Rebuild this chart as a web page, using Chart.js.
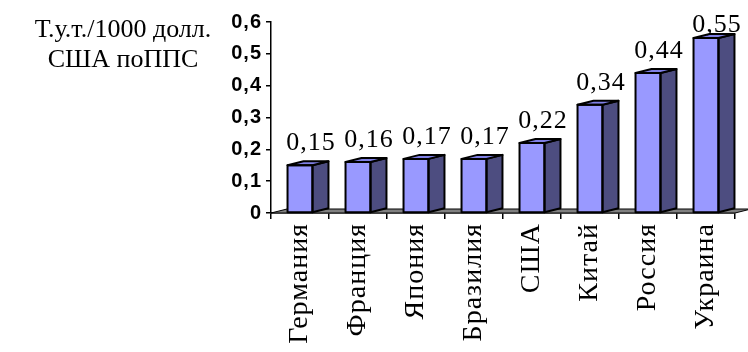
<!DOCTYPE html>
<html>
<head>
<meta charset="utf-8">
<script src="https://cdn.jsdelivr.net/npm/chart.js@4/dist/chart.umd.min.js"></script>
<style>
  html, body { margin: 0; padding: 0; background: #fff; }
  #wrap { position: relative; width: 748px; height: 352px; }
  #unit {
    position: absolute; left: 0; top: 14px; width: 246px;
    text-align: center; font-family: "Liberation Serif", "Times New Roman", serif;
    font-size: 26px; line-height: 30px; color: #000;
  }
</style>
</head>
<body>
<div id="wrap">
  <canvas id="barChart" width="748" height="352"></canvas>
  <div id="unit">Т.у.т./1000 долл.<br>США поППС</div>
</div>
<script>
// Data
const countries = ['Германия', 'Франция', 'Япония', 'Бразилия', 'США', 'Китай', 'Россия', 'Украина'];
const intensity = [0.15, 0.16, 0.17, 0.17, 0.22, 0.34, 0.44, 0.55];
const yTicks = [0, 0.1, 0.2, 0.3, 0.4, 0.5, 0.6];

const fmt = v => v === 0 ? '0' : v.toFixed(v * 10 % 1 === 0 ? 1 : 2).replace('.', ',');

// 3D look
const DX = 16, DY = 4;
const FRONT = '#9999FF';
const SIDE = '#4D4D80';
const TOP = '#8080E6';

function poly(c, pts, fill) {
    c.beginPath();
    c.moveTo(pts[0][0], pts[0][1]);
    for (let i = 1; i < pts.length; i++) c.lineTo(pts[i][0], pts[i][1]);
    c.closePath();
    c.fillStyle = fill;
    c.fill();
    c.stroke();
}

// slightly spaced text, like the original
const spacingPlugin = {
    id: 'spacing',
    beforeDraw(chart) { chart.ctx.letterSpacing = '1px'; }
};

const floorPlugin = {
    id: 'floor',
    beforeDatasetsDraw(chart) {
        const c = chart.ctx, a = chart.chartArea;
        c.save();
        c.strokeStyle = '#000';
        c.lineWidth = 1;
        poly(c, [[a.left, a.bottom], [a.left + DX, a.bottom - DY], [a.right + DX, a.bottom - DY], [a.right, a.bottom]], '#808080');
        c.restore();
    }
};

const bar3dPlugin = {
    id: 'bar3d',
    afterDatasetsDraw(chart) {
        const c = chart.ctx;
        const meta = chart.getDatasetMeta(0);
        c.save();
        c.strokeStyle = '#000';
        c.lineWidth = 2;
        c.lineJoin = 'round';
        meta.data.forEach((bar, i) => {
            const l = bar.x - bar.width / 2, r = bar.x + bar.width / 2;
            const t = bar.y, b = bar.base;
            poly(c, [[r, t], [r + DX, t - DY], [r + DX, b - DY], [r, b]], SIDE);
            poly(c, [[l, t], [l + DX, t - DY], [r + DX, t - DY], [r, t]], TOP);
            c.strokeRect(l, t, r - l, b - t);

            // value label
            c.fillStyle = '#000';
            c.font = '26px "Liberation Serif", "Times New Roman", serif';
            c.textAlign = 'center';
            c.textBaseline = 'alphabetic';
            const y = Math.max(t - 15, 32);
            c.fillText(fmt(intensity[i]), bar.x + DX / 2 + 3, y);
        });
        c.restore();
    }
};

const ctx = document.getElementById('barChart');

new Chart(ctx, {
    type: 'bar',
    data: {
        labels: countries,
        datasets: [{
            data: intensity,
            backgroundColor: FRONT,
            borderWidth: 0,
            barPercentage: 0.43,
            categoryPercentage: 1
        }]
    },
    options: {
        responsive: false,
        animation: false,
        events: [],
        layout: { padding: { top: 22, right: 13, left: 0, bottom: 0 } },
        plugins: {
            legend: { display: false },
            tooltip: { enabled: false }
        },
        scales: {
            x: {
                afterFit: s => { s.height = 139; },
                grid: { drawOnChartArea: false, drawTicks: true, tickLength: 6, color: '#000', lineWidth: 1.5 },
                border: { display: true, color: '#000', width: 1.5 },
                ticks: {
                    autoSkip: false,
                    minRotation: 90,
                    maxRotation: 90,
                    padding: 4,
                    color: '#000',
                    font: { family: '"Liberation Serif", "Times New Roman", serif', size: 28 }
                }
            },
            y: {
                min: 0,
                max: 0.6,
                afterFit: s => { s.width = 271; },
                afterBuildTicks: s => { s.ticks = yTicks.map(v => ({ value: v })); },
                grid: { drawOnChartArea: false, drawTicks: true, tickLength: 5, color: '#000', lineWidth: 1.5 },
                border: { display: true, color: '#000', width: 1.5 },
                ticks: {
                    padding: 4,
                    color: '#000',
                    callback: v => fmt(v),
                    font: { family: '"Liberation Sans", Arial, sans-serif', size: 20, weight: 'bold' }
                }
            }
        }
    },
    plugins: [spacingPlugin, floorPlugin, bar3dPlugin]
});
</script>
</body>
</html>
